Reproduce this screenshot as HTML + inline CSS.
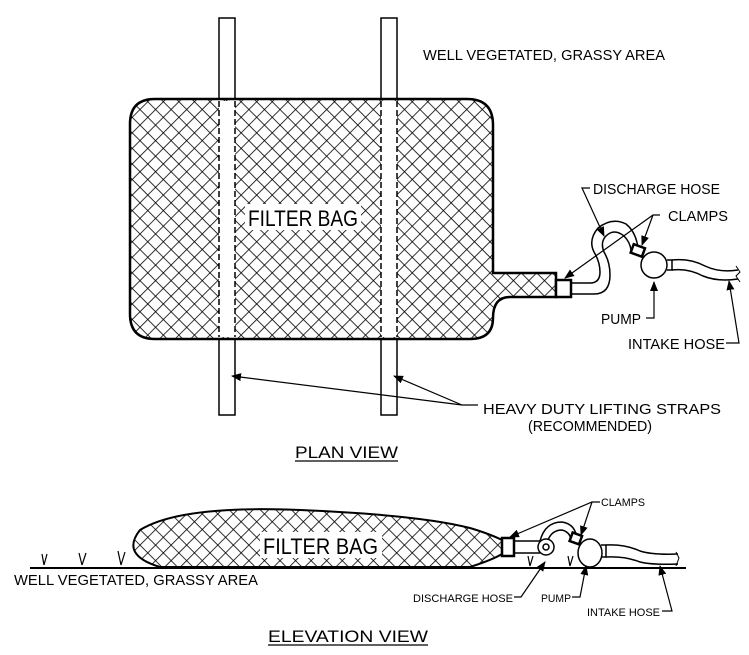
<!DOCTYPE html>
<html><head><meta charset="utf-8"><style>
html,body{margin:0;padding:0;background:#fff}
svg{display:block}
text{font-family:"Liberation Sans",Arial,sans-serif;fill:#000}
</style></head><body>
<svg width="749" height="655" viewBox="0 0 749 655" xmlns="http://www.w3.org/2000/svg">
<defs>
<pattern id="h" width="11" height="11" patternUnits="userSpaceOnUse" patternTransform="rotate(45)">
<line x1="0" y1="0" x2="0" y2="11" stroke="#000" stroke-width="1.6"/>
<line x1="0" y1="0" x2="11" y2="0" stroke="#000" stroke-width="1.6"/>
</pattern>
<marker id="a" markerWidth="10" markerHeight="8" refX="9" refY="4" orient="auto" markerUnits="userSpaceOnUse">
<path d="M0,0 L10,4 L0,8 Z" fill="#000"/></marker>
</defs>
<g stroke="#000" fill="none" stroke-width="1.5">
<path d="M155,99 H467 Q493,99 493,125 V273 H556 V297 H510 Q493,297 493,318 Q493,339 470,339 H155 Q130,339 130,314 V124 Q130,99 155,99 Z" fill="url(#h)" stroke-width="2.5"/>
<rect x="219" y="101" width="16" height="236" fill="#fff" stroke="none"/>
<rect x="381" y="101" width="16" height="236" fill="#fff" stroke="none"/>
<line x1="219" y1="101" x2="219" y2="337" stroke-dasharray="6,3"/>
<line x1="235" y1="101" x2="235" y2="337" stroke-dasharray="6,3"/>
<line x1="381" y1="101" x2="381" y2="337" stroke-dasharray="6,3"/>
<line x1="397" y1="101" x2="397" y2="337" stroke-dasharray="6,3"/>
<path d="M219,99 V18 H235 V99 M219,339 V415 H235 V339"/>
<path d="M381,99 V18 H397 V99 M381,339 V415 H397 V339"/>
<rect x="556" y="280" width="15" height="17" fill="#fff" stroke-width="2.5"/>
<path d="M571,283 H590 Q600,283 600,272 Q600,262 594,252 Q588,240 598,228 Q612,217 626,224 Q636,232 638,248"/>
<path d="M571,294 H594 Q610,294 610,275 Q610,262 604,252 Q600,242 606,236 Q614,228 624,236 Q630,242 631,250"/>
<circle cx="654" cy="265" r="13" fill="#fff"/>
<rect x="632" y="246" width="12" height="9" fill="#fff" stroke-width="2.5" transform="rotate(20 638 250)"/>
<path d="M667,260 H672 V270 H667"/>
<path d="M672,260 Q690,258 705,266 Q720,273 738,270"/>
<path d="M672,270 Q688,268 703,276 Q718,282 738,279"/>
<path d="M736,266 L740,272 L736,276 L740,282" stroke-width="1"/>
<g stroke-width="1.2">
<path d="M590,188 H582 L604,236" marker-end="url(#a)"/>
<path d="M660,215 H653 L565,278" marker-end="url(#a)"/>
<path d="M653,215 L642,245" marker-end="url(#a)"/>
<path d="M646,318 H654 V282" marker-end="url(#a)"/>
<path d="M726,343 H739 L729,281" marker-end="url(#a)"/>
<path d="M478,405 H462 L232,376" marker-end="url(#a)"/>
<path d="M462,405 L394,376" marker-end="url(#a)"/>
</g>
<line x1="30" y1="568" x2="686" y2="568" stroke-width="2"/>
<path d="M160,567 Q120,555 140,530 Q180,505 300,510 Q420,515 470,528 Q490,534 502,540 V554 Q492,560 470,567 Z" fill="url(#h)" stroke-width="2"/>
<rect x="502" y="538" width="12" height="18" fill="#fff" stroke-width="2.5"/>
<path d="M514,541 H540 M514,553 H540"/>
<circle cx="546" cy="547" r="8" fill="#fff"/>
<circle cx="546" cy="547" r="3"/>
<path d="M540,541 Q545,522 562,522 Q576,524 577,540"/>
<path d="M548,540 Q552,530 562,530 Q570,532 571,540"/>
<ellipse cx="590" cy="553" rx="12" ry="14" fill="#fff"/>
<rect x="571" y="534" width="10" height="9" fill="#fff" stroke-width="2.5" transform="rotate(20 576 538)"/>
<path d="M601,545 H606 V557 H601"/>
<path d="M606,545 Q625,544 640,551 Q652,555 678,554 M606,557 Q625,556 640,562 Q652,565 678,564"/>
<path d="M676,552 L679,558 L676,566" stroke-width="1"/>
<g stroke-width="1.2">
<path d="M44,565 L42,554 M44,565 L47,554"/>
<path d="M82,565 L79,553 M82,565 L86,553"/>
<path d="M121,565 L118,551 M121,565 L125,552"/>
<path d="M530,566 L528,556 M530,566 L533,556"/>
<path d="M570,566 L568,556 M570,566 L573,556"/>
<path d="M600,502 H592 L510,537" marker-end="url(#a)"/>
<path d="M592,502 L581,535" marker-end="url(#a)"/>
<path d="M514,597 H521 L545,562" marker-end="url(#a)"/>
<path d="M572,597 H580 L586,566" marker-end="url(#a)"/>
<path d="M662,611 H672 L660,566" marker-end="url(#a)"/>
</g>
</g>
<g lengthAdjust="spacingAndGlyphs">
<text x="423" y="60" font-size="15" textLength="242" lengthAdjust="spacingAndGlyphs">WELL VEGETATED, GRASSY AREA</text>
<rect x="245" y="204" width="116" height="26" fill="#fff"/>
<text x="248" y="226" font-size="22" textLength="110" lengthAdjust="spacingAndGlyphs">FILTER BAG</text>
<text x="593" y="194" font-size="15" textLength="127" lengthAdjust="spacingAndGlyphs">DISCHARGE HOSE</text>
<text x="668" y="221" font-size="15" textLength="60" lengthAdjust="spacingAndGlyphs">CLAMPS</text>
<text x="601" y="324" font-size="15" textLength="40" lengthAdjust="spacingAndGlyphs">PUMP</text>
<text x="628" y="349" font-size="15" textLength="97" lengthAdjust="spacingAndGlyphs">INTAKE HOSE</text>
<text x="483" y="414" font-size="15" textLength="238" lengthAdjust="spacingAndGlyphs">HEAVY DUTY LIFTING STRAPS</text>
<text x="528" y="431" font-size="15" textLength="124" lengthAdjust="spacingAndGlyphs">(RECOMMENDED)</text>
<text x="295" y="458" font-size="17" textLength="103" lengthAdjust="spacingAndGlyphs">PLAN VIEW</text>
<line x1="295" y1="461" x2="398" y2="461" stroke="#000" stroke-width="1.3"/>
<rect x="260" y="532" width="122" height="26" fill="#fff"/>
<text x="263" y="554" font-size="22" textLength="115" lengthAdjust="spacingAndGlyphs">FILTER BAG</text>
<text x="14" y="585" font-size="15" textLength="244" lengthAdjust="spacingAndGlyphs">WELL VEGETATED, GRASSY AREA</text>
<text x="601" y="506" font-size="11" textLength="44" lengthAdjust="spacingAndGlyphs">CLAMPS</text>
<text x="413" y="602" font-size="11" textLength="100" lengthAdjust="spacingAndGlyphs">DISCHARGE HOSE</text>
<text x="541" y="602" font-size="11" textLength="30" lengthAdjust="spacingAndGlyphs">PUMP</text>
<text x="587" y="616" font-size="11" textLength="73" lengthAdjust="spacingAndGlyphs">INTAKE HOSE</text>
<text x="268" y="642" font-size="17" textLength="160" lengthAdjust="spacingAndGlyphs">ELEVATION VIEW</text>
<line x1="268" y1="645" x2="428" y2="645" stroke="#000" stroke-width="1.3"/>
</g>
</svg>
</body></html>
